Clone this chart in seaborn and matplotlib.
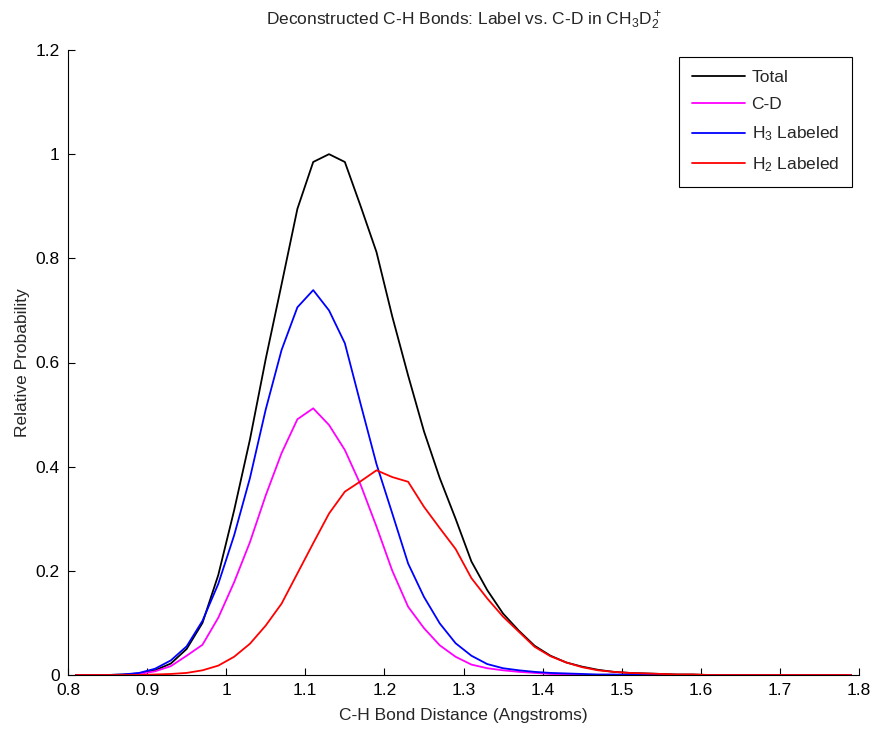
import numpy as np
import pandas as pd
import matplotlib
matplotlib.use("Agg")
import matplotlib.pyplot as plt
import seaborn as sns

x = [0.81, 0.83, 0.85, 0.87, 0.89, 0.91, 0.93, 0.95, 0.97, 0.99,
     1.01, 1.03, 1.05, 1.07, 1.09, 1.11, 1.13, 1.15, 1.17, 1.19,
     1.21, 1.23, 1.25, 1.27, 1.29, 1.31, 1.33, 1.35, 1.37, 1.39,
     1.41, 1.43, 1.45, 1.47, 1.49, 1.51, 1.53, 1.55, 1.57, 1.59,
     1.61, 1.63, 1.65, 1.67, 1.69, 1.71, 1.73, 1.75, 1.77, 1.79]

total = [0, 0, 0, 0.001, 0.003, 0.009, 0.022, 0.050, 0.100, 0.192,
         0.316, 0.452, 0.607, 0.750, 0.895, 0.985, 1.0, 0.985, 0.900, 0.812,
         0.688, 0.575, 0.468, 0.378, 0.300, 0.218, 0.163, 0.118, 0.085, 0.056,
         0.037, 0.024, 0.016, 0.010, 0.006, 0.004, 0.003, 0.002, 0.001, 0.001,
         0, 0, 0, 0, 0, 0, 0, 0, 0, 0]

cd = [0, 0, 0, 0, 0.002, 0.007, 0.017, 0.037, 0.058, 0.110,
      0.178, 0.255, 0.345, 0.426, 0.491, 0.512, 0.480, 0.432, 0.365, 0.285,
      0.200, 0.131, 0.090, 0.057, 0.035, 0.020, 0.013, 0.009, 0.006, 0.004,
      0.002, 0.001, 0, 0, 0, 0, 0, 0, 0, 0,
      0, 0, 0, 0, 0, 0, 0, 0, 0, 0]

h3 = [0, 0, 0, 0.001, 0.004, 0.012, 0.028, 0.055, 0.104, 0.175,
      0.268, 0.378, 0.510, 0.624, 0.706, 0.739, 0.700, 0.637, 0.520, 0.405,
      0.310, 0.214, 0.150, 0.099, 0.061, 0.037, 0.021, 0.013, 0.009, 0.006,
      0.004, 0.003, 0.002, 0.001, 0.001, 0.0005, 0, 0, 0, 0,
      0, 0, 0, 0, 0, 0, 0, 0, 0, 0]

h2 = [0, 0, 0, 0, 0, 0.001, 0.002, 0.004, 0.009, 0.018,
      0.035, 0.060, 0.095, 0.137, 0.195, 0.253, 0.310, 0.352, 0.372, 0.393,
      0.380, 0.371, 0.323, 0.282, 0.242, 0.186, 0.147, 0.112, 0.083, 0.054,
      0.036, 0.024, 0.015, 0.009, 0.006, 0.004, 0.003, 0.002, 0.001, 0.001,
      0, 0, 0, 0, 0, 0, 0, 0, 0, 0]

labels = ["Total", "C-D", "H$_3$ Labeled", "H$_2$ Labeled"]
colors = ["#000000", "#FF00FF", "#0000FF", "#FF0000"]
series = [total, cd, h3, h2]

xticks = [0.8, 0.9, 1.0, 1.1, 1.2, 1.3, 1.4, 1.5, 1.6, 1.7, 1.8]
xticklabels = ["0.8", "0.9", "1", "1.1", "1.2", "1.3", "1.4", "1.5", "1.6", "1.7", "1.8"]
yticks = [0, 0.2, 0.4, 0.6, 0.8, 1.0, 1.2]
yticklabels = ["0", "0.2", "0.4", "0.6", "0.8", "1", "1.2"]

sns.set_style("white")
plt.rcParams['font.family'] = ['Liberation Sans', 'DejaVu Sans']
plt.rcParams['mathtext.fontset'] = 'custom'
plt.rcParams['mathtext.rm'] = 'Liberation Sans'
plt.rcParams['mathtext.it'] = 'Liberation Sans:italic'
plt.rcParams['mathtext.bf'] = 'Liberation Sans:bold'

FS = 12.5

fig = plt.figure(figsize=(8.72, 7.29), dpi=100)
ax = fig.add_axes([68/872, 1-675/729, (859-68)/872, (675-50)/729])

for s, lab, col in zip(series, labels, colors):
    df = pd.DataFrame({"x": x, "y": s})
    sns.lineplot(data=df, x="x", y="y", color=col, label=lab, ax=ax,
                 linewidth=1.3, sort=False)

ax.set_xlim(0.8, 1.8)
ax.set_ylim(0, 1.2)
ax.set_xticks(xticks)
ax.set_xticklabels(xticklabels)
ax.set_yticks(yticks)
ax.set_yticklabels(yticklabels)
ax.tick_params(direction='in', length=5, width=0.8, labelsize=FS, colors='black',
               bottom=True, left=True, pad=6)
for side in ['top', 'right']:
    ax.spines[side].set_visible(False)
for side in ['left', 'bottom']:
    ax.spines[side].set_color('black')
    ax.spines[side].set_linewidth(0.8)

ax.set_xlabel("C-H Bond Distance (Angstroms)", fontsize=FS, labelpad=7)
ax.set_ylabel("Relative Probability", fontsize=FS, labelpad=4)
ax.set_title("Deconstructed C-H Bonds: Label vs. C-D in CH$_3$D$_2^+$", fontsize=FS, pad=18)

leg = ax.legend(loc='upper right', bbox_to_anchor=(852/872, 1-57/729),
                bbox_transform=fig.transFigure, borderaxespad=0,
                fontsize=FS, frameon=True, fancybox=False, framealpha=1,
                handlelength=3.1, handletextpad=0.35, labelspacing=0.7,
                borderpad=0.75)
leg.get_frame().set_edgecolor('black')
leg.get_frame().set_linewidth(0.8)

fig.savefig("out.png", dpi=100)
